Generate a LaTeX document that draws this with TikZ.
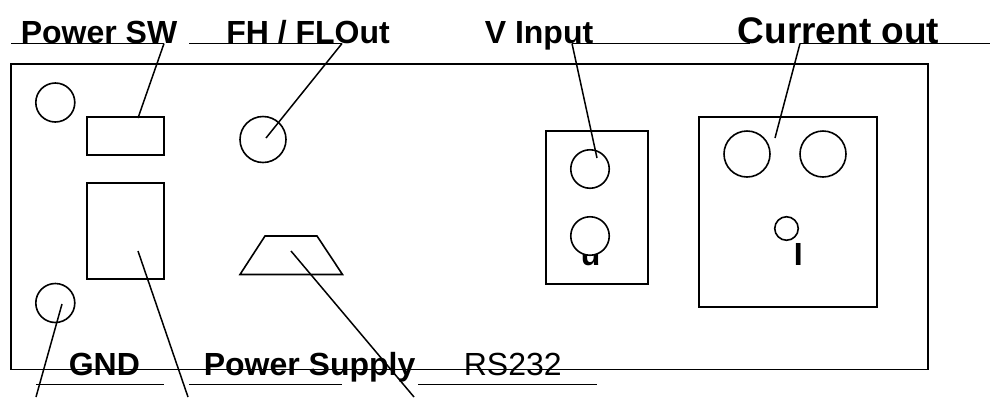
\documentclass[tikz,border=0pt]{standalone}
\usepackage{fontspec}
\setmainfont{Liberation Sans}
\begin{document}
\begin{tikzpicture}[x=1pt,y=-1pt,line width=1.6pt,
  lab/.style={anchor=base west,inner sep=0pt,font=\fontsize{32}{32}\selectfont\bfseries},
  plainlab/.style={anchor=base west,inner sep=0pt,font=\fontsize{32}{32}\selectfont},
  big/.style={anchor=base west,inner sep=0pt,font=\fontsize{37}{37}\selectfont\bfseries},
  hole/.style={circle,draw,fill=white,inner sep=0pt,outer sep=0pt,minimum size=#1},
  box/.style={draw,rectangle,inner sep=0pt,outer sep=0pt,anchor=north west,minimum width=#1},
  leader/.style={line width=1.5pt},
  rule/.style={line width=1.5pt}]
\useasboundingbox (0,0) rectangle (990,397);
% panel
\node[box=917pt,minimum height=305.5pt] (panel) at (11,64) {};
% labels
\node[lab] (lsw) at (20,43.5) {Power SW};
\node[lab] (lfh) at (225.5,43.5) {FH / FLOut};
\node[lab] (lv) at (484,43.5) {V Input};
\node[big] (lcur) at (737,43.5) {Current out};
\node[lab] (lgnd) at (68,375) {GND};
\node[lab] (lps) at (203,375) {Power Supply};
\node[plainlab] (lrs) at (463,375) {RS232};
\node[lab] (lu) at (580,265) {u};
\node[lab] (li) at (793,265) {I};
% left side
\node[hole=39pt] (c1) at (55.3,102.5) {};
\node[hole=39pt] (gnd) at (55.3,303) {};
\node[box=77pt,minimum height=38pt] (sw) at (87,117) {};
\node[box=77pt,minimum height=96pt] (ps) at (87,183) {};
\node[hole=46pt] (fh) at (263,139.5) {};
\draw[line join=miter] (240,274.5) -- (265,236) -- (317,236) -- (342.5,274.5) -- cycle;
% voltage block
\node[box=102pt,minimum height=153pt] (vbox) at (546,131) {};
\node[hole=38.5pt] (v1) at (590,169) {};
\node[hole=38.5pt] (v2) at (590,236) {};
% current block
\node[box=178pt,minimum height=190pt] (ibox) at (699,117) {};
\node[hole=46pt] (i1) at (747,154) {};
\node[hole=46pt] (i2) at (823,154) {};
\node[hole=23.5pt] (i3) at (786.5,228.5) {};
% leader anchors
\coordinate (a1) at (11,43.5); \coordinate (a2) at (164,43.5);
\coordinate (b1) at (189,43.5); \coordinate (b2) at (342,43.5);
\coordinate (c1a) at (572,43.5); \coordinate (c2a) at (750,43.5);
\coordinate (d1) at (800,43.5); \coordinate (d2) at (990,43.5);
\coordinate (e1) at (36,384.5); \coordinate (e2) at (164,384.5);
\coordinate (f1) at (189,384.5); \coordinate (f2) at (342,384.5);
\coordinate (g1) at (418,384.5); \coordinate (g2) at (597,384.5);
\coordinate (swt) at (138,118); \coordinate (fht) at (266,138);
\coordinate (vt) at (597,158); \coordinate (it) at (775,138);
\coordinate (gt) at (62,304); \coordinate (pt) at (138,251); \coordinate (rt) at (291,251);
\coordinate (ge) at (36,397); \coordinate (pe) at (188,397); \coordinate (re) at (414,397);
\foreach \p/\q in {a1/a2,b1/b2,c1a/c2a,d1/d2,e1/e2,f1/f2,g1/g2}
  \draw[rule] (\p) -- (\q);
\foreach \p/\q in {a2/swt,b2/fht,c1a/vt,d1/it,gt/ge,pt/pe,rt/re}
  \draw[leader] (\p) -- (\q);
\end{tikzpicture}
\end{document}
